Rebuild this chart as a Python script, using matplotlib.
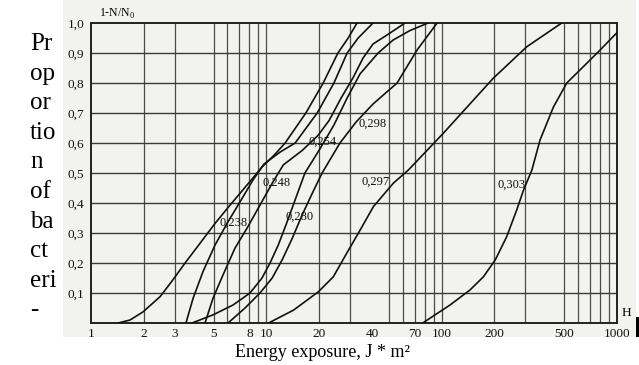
import numpy as np
import matplotlib.pyplot as plt
from matplotlib.patches import Rectangle
from matplotlib.ticker import NullFormatter

plt.rcParams['font.family'] = ['Liberation Serif', 'DejaVu Serif']

# curves: energy (log axis) and 1-N/N0
c1_x = [1.43, 1.67, 1.98, 2.48, 2.90, 3.44, 4.19, 5.10, 6.21, 7.76, 9.45, 11.1, 12.8, 16.8, 21.1, 25.6, 29.3, 32.9]
c1_y = [0, 0.01, 0.037, 0.088, 0.14, 0.2, 0.266, 0.332, 0.393, 0.46, 0.52, 0.56, 0.6, 0.7, 0.8, 0.9, 0.95, 1.0]

c2_x = [3.48, 3.82, 4.35, 5.10, 5.97, 7.08, 8.40, 9.70, 12.0, 14.6, 19.5, 24.3, 28.9, 33.4, 40.6]
c2_y = [0, 0.082, 0.171, 0.26, 0.332, 0.404, 0.477, 0.53, 0.57, 0.6, 0.7, 0.8, 0.9, 0.95, 1.0]

c3_x = [4.47, 4.96, 5.66, 6.63, 7.76, 9.20, 10.9, 12.5, 16.0, 19.7, 22.8, 26.7, 31.2, 35.6, 40.6, 48.8, 61.8]
c3_y = [0, 0.082, 0.16, 0.25, 0.316, 0.393, 0.47, 0.527, 0.575, 0.625, 0.675, 0.75, 0.817, 0.883, 0.93, 0.96, 1.0]

c4_x = [3.77, 4.96, 6.46, 8.07, 9.45, 10.5, 11.7, 13.0, 14.8, 16.6, 20.2, 24.3, 28.9, 34.2, 43.4, 52.8, 66.0, 83.7]
c4_y = [0, 0.027, 0.06, 0.1, 0.15, 0.2, 0.26, 0.33, 0.42, 0.5, 0.58, 0.66, 0.75, 0.83, 0.9, 0.943, 0.975, 1.0]

c5_x = [6.05, 7.56, 9.20, 10.8, 12.3, 14.0, 16.0, 18.2, 20.8, 26.3, 32.5, 40.6, 55.7, 72.4, 94.2]
c5_y = [0, 0.05, 0.1, 0.15, 0.21, 0.28, 0.36, 0.43, 0.5, 0.6, 0.67, 0.73, 0.8, 0.91, 1.0]

c6_x = [10.3, 14.3, 19.8, 24.1, 28.7, 34.3, 40.8, 53, 64.6, 102, 197, 306, 484]
c6_y = [0, 0.043, 0.104, 0.154, 0.232, 0.31, 0.388, 0.466, 0.51, 0.632, 0.816, 0.921, 1.0]

c7_x = [78, 111.6, 145, 173, 202, 235, 268, 293, 327, 364, 434, 517, 673, 801, 997]
c7_y = [0, 0.06, 0.11, 0.154, 0.21, 0.288, 0.377, 0.443, 0.51, 0.61, 0.72, 0.80, 0.866, 0.91, 0.967]

curve_labels = ['0,238', '0,248', '0,280', '0,254', '0,298', '0,297', '0,303']
label_x = [5.44, 9.45, 12.8, 17.3, 33.4, 35.0, 207]
label_y = [0.333, 0.466, 0.354, 0.603, 0.663, 0.47, 0.46]

xtick_vals = [1, 2, 3, 5, 8, 10, 20, 40, 70, 100, 200, 500, 1000]
xgrid_vals = [2, 3, 5, 6, 7, 8, 9, 10, 20, 30, 50, 60, 70, 80, 90, 100,
              200, 300, 500, 600, 700, 800, 900]
ytick_vals = [0.1, 0.2, 0.3, 0.4, 0.5, 0.6, 0.7, 0.8, 0.9, 1.0]

side_words = ['Pr', 'op', 'or', 'tio', 'n', 'of', 'ba', 'ct', 'eri', '-']

fig = plt.figure(figsize=(6.39, 3.65), dpi=100)
# greyish scanned area
fig.add_artist(Rectangle((63/639, 28/365), 573/639, 337/365, transform=fig.transFigure,
                         facecolor='#f2f2ee', edgecolor='none', zorder=0))
fig.add_artist(Rectangle((636/639, 28/365), 3/639, 20/365, transform=fig.transFigure,
                         facecolor='black', edgecolor='none', zorder=1))

ax = fig.add_axes([91/639, 42/365, 526/639, 300/365])
ax.set_facecolor('none')
ax.set_xscale('log')
ax.set_xlim(1, 1000)
ax.set_ylim(0, 1)

for v in xgrid_vals:
    ax.axvline(v, color='#4a4a4a', lw=0.9, zorder=1)
for v in ytick_vals[:-1]:
    ax.axhline(v, color='#3a3a3a', lw=1.0, zorder=1)

for xs, ys in [(c1_x, c1_y), (c2_x, c2_y), (c3_x, c3_y), (c4_x, c4_y),
               (c5_x, c5_y), (c6_x, c6_y), (c7_x, c7_y)]:
    ax.plot(xs, ys, color='#111111', lw=1.2, zorder=3)

for t, x, y in zip(curve_labels, label_x, label_y):
    ax.text(x, y, t, fontsize=9, ha='left', va='center', color='#111111', zorder=4)

ax.set_xticks(xtick_vals)
ax.set_xticklabels([str(v) for v in xtick_vals])
ax.xaxis.set_minor_formatter(NullFormatter())
ax.set_yticks(ytick_vals)
ax.set_yticklabels([('%.1f' % v).replace('.', ',') for v in ytick_vals])
ax.tick_params(which='both', length=0, labelsize=9.5, colors='#111111')
ax.tick_params(axis='x', pad=3.5)
ax.tick_params(axis='y', pad=5)
for s in ax.spines.values():
    s.set_linewidth(1.4)
    s.set_color('#222222')

ax.text(0.015, 1.006, r'1-N/N$_\mathregular{0}$', transform=ax.transAxes,
        fontsize=8.5, ha='left', va='bottom')
ax.text(1.008, 0.012, 'H', transform=ax.transAxes, fontsize=9.5, ha='left', va='bottom')

for i, w in enumerate(side_words):
    fig.text(30/639, 1 - (50 + 29.6*i)/365, w, fontsize=18, ha='left', va='baseline')

fig.text(322/639, 8/365, 'Energy exposure, J * m\u00b2', fontsize=13, ha='center', va='baseline')

fig.savefig('out.png', dpi=100)
